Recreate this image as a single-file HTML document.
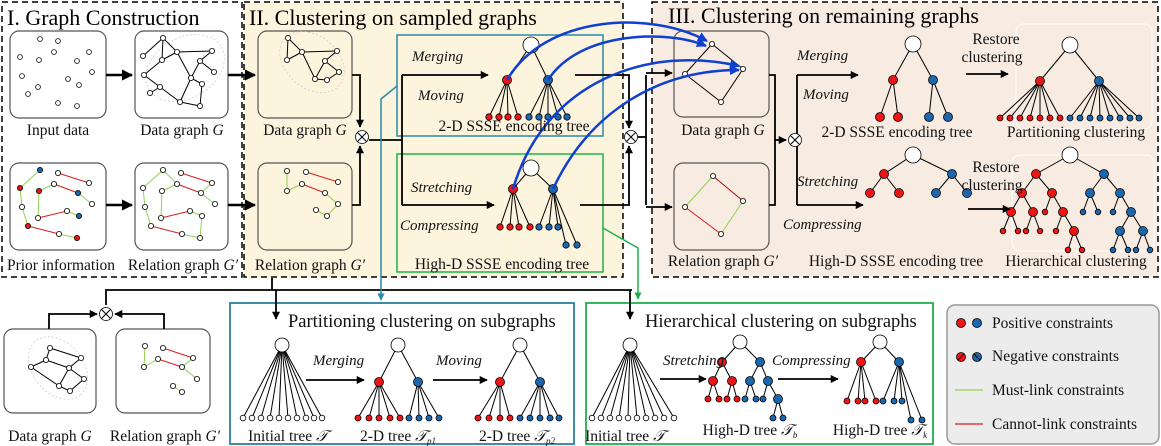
<!DOCTYPE html>
<html><head><meta charset="utf-8"><style>
html,body{margin:0;padding:0;background:#fff}
svg{display:block;font-family:"Liberation Serif",serif}
</style></head><body>
<svg id="s" width="1161" height="446" viewBox="0 0 1161 446" xmlns="http://www.w3.org/2000/svg">
<defs>
<marker id="ak" viewBox="0 0 10 10" refX="9" refY="5" markerWidth="4.5" markerHeight="4.5" orient="auto"><path d="M0,0L10,5L0,10z" fill="#000"/></marker>
<marker id="ab" viewBox="0 0 10 10" refX="9" refY="5" markerWidth="4" markerHeight="4" orient="auto"><path d="M0,0L10,5L0,10z" fill="#1040d0"/></marker>
<marker id="at" viewBox="0 0 10 10" refX="9" refY="5" markerWidth="5" markerHeight="5" orient="auto"><path d="M0,0L10,5L0,10z" fill="#2a8aa8"/></marker>
<marker id="ag" viewBox="0 0 10 10" refX="9" refY="5" markerWidth="5" markerHeight="5" orient="auto"><path d="M0,0L10,5L0,10z" fill="#1db34a"/></marker>
</defs>
<rect x="244" y="2" width="379" height="275" fill="#fdf4de" stroke="#000" stroke-width="1.5" stroke-dasharray="6,4"/>
<rect x="2" y="2" width="240" height="275" fill="#fff" stroke="#000" stroke-width="1.5" stroke-dasharray="6,4"/>
<rect x="652" y="2" width="506" height="275" fill="#f8ece2" stroke="#000" stroke-width="1.5" stroke-dasharray="6,4"/>
<rect x="1016" y="24" width="136" height="105" rx="8" fill="none" stroke="#fff" stroke-width="1"/>
<rect x="1012" y="155" width="142" height="96" rx="8" fill="none" stroke="#fff" stroke-width="1"/>
<text x="7" y="25" font-size="22">I. Graph Construction</text>
<text x="249" y="25" font-size="22">II. Clustering on sampled graphs</text>
<text x="668" y="23" font-size="22">III. Clustering on remaining graphs</text>
<g fill="#fff" stroke="#555" stroke-width="1.2">
<rect x="10" y="31" width="96" height="87" rx="9"/>
<rect x="135" y="31" width="93" height="87" rx="9"/>
<rect x="10" y="163" width="96" height="87" rx="9"/>
<rect x="135" y="163" width="93" height="87" rx="9"/>
<rect x="258" y="31" width="94" height="87" rx="9" fill="#fdf4de"/>
<rect x="258" y="163" width="94" height="87" rx="9" fill="#fdf4de"/>
<rect x="674" y="31" width="95" height="86" rx="9" fill="#f8ece2"/>
<rect x="674" y="163" width="95" height="87" rx="9" fill="#f8ece2"/>
<rect x="4" y="329" width="92" height="84" rx="9"/>
<rect x="116" y="329" width="94" height="84" rx="9"/>
</g>
<rect x="397" y="35" width="206" height="101" fill="none" stroke="#2a8aa8" stroke-width="1.5"/>
<rect x="397" y="154" width="206" height="118" fill="none" stroke="#1db34a" stroke-width="1.5"/>
<rect x="230" y="303" width="344" height="141" fill="#fff" stroke="#2a7fa0" stroke-width="1.8"/>
<rect x="586" y="303" width="347" height="141" fill="#fff" stroke="#1db34a" stroke-width="1.8"/>
<rect x="947" y="305" width="212" height="139" rx="8" fill="#ececec" stroke="#999" stroke-width="1.5"/>
<ellipse cx="185" cy="68" rx="42" ry="30" fill="none" stroke="#ccc" stroke-width="0.8" stroke-dasharray="2,2" transform="rotate(-30 185 68)"/>
<ellipse cx="312" cy="62" rx="36" ry="26" fill="none" stroke="#ccc" stroke-width="0.8" stroke-dasharray="2,2" transform="rotate(40 312 62)"/>
<ellipse cx="58" cy="368" rx="35" ry="25" fill="none" stroke="#ccc" stroke-width="0.8" stroke-dasharray="2,2" transform="rotate(50 58 368)"/>
<g id="g"></g>
<g font-size="15.5" fill="#111">
<text x="58" y="135" text-anchor="middle">Input data</text>
<text x="182" y="135" text-anchor="middle">Data graph <tspan font-style="italic">G</tspan></text>
<text x="61" y="270" text-anchor="middle">Prior information</text>
<text x="183" y="270" text-anchor="middle">Relation graph <tspan font-style="italic">G′</tspan></text>
<text x="305" y="135" text-anchor="middle">Data graph <tspan font-style="italic">G</tspan></text>
<text x="310" y="270" text-anchor="middle">Relation graph <tspan font-style="italic">G′</tspan></text>
<text x="514" y="131" text-anchor="middle">2-D SSSE encoding tree</text>
<text x="502" y="269" text-anchor="middle">High-D SSSE encoding tree</text>
<text x="723" y="135" text-anchor="middle">Data graph <tspan font-style="italic">G</tspan></text>
<text x="723" y="266" text-anchor="middle">Relation graph <tspan font-style="italic">G′</tspan></text>
<text x="897" y="137" text-anchor="middle">2-D SSSE encoding tree</text>
<text x="1076" y="137" text-anchor="middle">Partitioning clustering</text>
<text x="896" y="266" text-anchor="middle">High-D SSSE encoding tree</text>
<text x="1076" y="266" text-anchor="middle">Hierarchical clustering</text>
<text x="996" y="44" text-anchor="middle">Restore</text>
<text x="992" y="62" text-anchor="middle">clustering</text>
<text x="996" y="172" text-anchor="middle">Restore</text>
<text x="992" y="190" text-anchor="middle">clustering</text>
<text x="50" y="441" text-anchor="middle">Data graph <tspan font-style="italic">G</tspan></text>
<text x="165" y="441" text-anchor="middle">Relation graph <tspan font-style="italic">G′</tspan></text>
<text x="288" y="441" text-anchor="middle">Initial tree <tspan font-style="italic">𝒯</tspan></text>
<text x="398" y="441" text-anchor="middle">2-D tree <tspan font-style="italic">𝒯<tspan font-size="9" dy="3">p1</tspan></tspan></text>
<text x="517" y="441" text-anchor="middle">2-D tree <tspan font-style="italic">𝒯<tspan font-size="9" dy="3">p2</tspan></tspan></text>
<text x="625" y="441" text-anchor="middle">Initial tree <tspan font-style="italic">𝒯</tspan></text>
<text x="750" y="435" text-anchor="middle">High-D tree <tspan font-style="italic">𝒯<tspan font-size="9" dy="3">b</tspan></tspan></text>
<text x="880" y="435" text-anchor="middle">High-D tree <tspan font-style="italic">𝒯<tspan font-size="9" dy="3">k</tspan></tspan></text>
</g>
<g font-size="15" font-style="italic" fill="#111">
<text x="412" y="61">Merging</text><text x="418" y="100">Moving</text>
<text x="411" y="192">Stretching</text><text x="400" y="230">Compressing</text>
<text x="797" y="60">Merging</text><text x="803" y="99">Moving</text>
<text x="797" y="186">Stretching</text><text x="783" y="229">Compressing</text>
<text x="313" y="365">Merging</text><text x="436" y="365">Moving</text>
<text x="663" y="365">Stretching</text><text x="772" y="365">Compressing</text>
</g>
<g font-size="18.5" fill="#111">
<text x="288" y="327">Partitioning clustering on subgraphs</text>
<text x="645" y="327">Hierarchical clustering on subgraphs</text>
</g>
<g font-size="15.5" fill="#111">
<text x="992" y="328">Positive constraints</text>
<text x="992" y="361">Negative constraints</text>
<text x="992" y="395">Must-link constraints</text>
<text x="992" y="429">Cannot-link constraints</text>
</g>
</svg>
<script>
var g=document.getElementById('g'),NS='http://www.w3.org/2000/svg';
var R='#ee1515',B='#1b67ad',W='#fff';
function el(t,a){var e=document.createElementNS(NS,t);for(var k in a)e.setAttribute(k,a[k]);g.appendChild(e);return e;}
function L(a,b,c,d,col,w,m){var o={x1:a,y1:b,x2:c,y2:d,stroke:col||'#000','stroke-width':w||1};if(m)o['marker-end']='url(#'+m+')';return el('line',o);}
function P(d,col,w,m){var o={d:d,fill:'none',stroke:col||'#000','stroke-width':w||1};if(m)o['marker-end']='url(#'+m+')';return el('path',o);}
function C(x,y,r,f){return el('circle',{cx:x,cy:y,r:r,fill:f||W,stroke:'#000','stroke-width':0.8});}
function graph(nodes,edges,dx,dy,cols){edges.forEach(function(e){var a=nodes[e[0]],b=nodes[e[1]];L(a[0]+dx,a[1]+dy,b[0]+dx,b[1]+dy,e[2]||'#000',1);});nodes.forEach(function(n,i){C(n[0]+dx,n[1]+dy,2.6,cols?(cols[i]||W):W);});}
[[40,39],[58,41],[54,52],[89,52],[20,57],[39,60],[77,61],[92,72],[22,76],[68,79],[79,85],[38,87],[28,94],[58,103],[77,106]].forEach(function(p){C(p[0],p[1],2.4);});
var dg=[[163,38],[177,52],[212,51],[143,56],[162,60],[200,61],[214,72],[191,78],[160,87],[150,93],[202,84],[180,102],[200,106],[144,75]];
var de=[[0,1],[0,3],[0,4],[1,4],[1,2],[2,5],[5,6],[5,7],[1,7],[4,13],[13,8],[8,9],[8,11],[7,10],[10,12],[11,12],[7,11]];
graph(dg,de,0,0);
graph([[288,38],[302,52],[337,51],[287,60],[325,61],[339,72],[315,79],[327,80]],[[0,1],[0,3],[1,3],[1,2],[2,4],[4,5],[4,6],[1,6],[6,7],[5,7]],0,0);
graph([[31,367],[50,348],[46,360],[81,358],[69,368],[84,379],[59,386],[70,391]],[[0,2],[1,2],[1,3],[2,4],[3,4],[4,5],[4,6],[6,7],[5,7],[0,6]],0,0);
var pn=[[40,170],[58,173],[89,183],[54,184],[20,188],[39,191],[78,193],[92,204],[22,207],[67,211],[79,216],[38,218],[28,226],[59,234],[77,238]];
var G='#8fd14f',RD='#d62020';
var pe=[[0,4,G],[4,8,G],[8,12,G],[1,2,RD],[3,6,RD],[6,7,G],[5,11,G],[11,9,RD],[9,10,G],[12,13,RD],[13,14,G],[3,5,G]];
graph(pn,pe,0,0,{0:B,4:R,5:R,6:B,10:B,12:R,14:R});
var pe2=pe.concat([[0,3,G],[2,6,G],[10,14,G]]);
graph(pn,pe2,123,0);
graph([[287,171],[306,172],[338,182],[302,184],[325,193],[287,191],[338,204],[316,210],[327,216]],[[0,5,G],[5,3,G],[1,2,RD],[3,4,RD],[4,6,G],[6,8,G],[7,8,G]],0,0);
graph([[145,346],[144,367],[163,348],[193,358],[158,359],[182,367],[197,379],[173,386],[182,392]],[[0,1,G],[1,4,G],[2,3,RD],[4,5,RD],[3,5,G],[5,6,G],[7,8,G]],0,0);
graph([[712,44],[685,74],[743,69],[721,102]],[[0,1],[0,2],[1,3],[3,2]],0,0);
graph([[713,176],[685,207],[743,201],[721,234]],[[0,1,G],[2,3,G],[0,2,'#a01010'],[1,3,RD]],0,0);
function tree(root,kids){
  function draw(n){var k=n[4]||[];k.forEach(function(c){L(n[0],n[1],c[0],c[1],'#000',1);draw(c);});}
  function dots(n){(n[4]||[]).forEach(dots);C(n[0],n[1],n[2],n[3]);}
  var r=[root[0],root[1],root[2],root[3],kids];draw(r);dots(r);}
function lv(xs,y,r,col){return xs.map(function(x){return [x,y,r,col];});}
tree([531,45,8,W],[[507,80,4.5,R,lv([489,499,508,518],117,3.2,R)],[548,80,4.5,B,lv([529,539,548,558,567],117,3.2,B)]]);
tree([531,168,8,W],[[513,189,4.5,R,lv([500,510,519,530],227,3.2,R)],[553,189,4.5,B,lv([539,549,558],227,3.2,B).concat(lv([566,577],245,3.2,B))]]);
tree([913,44,8,W],[[893,80,4.5,R,lv([880,898],117,4.5,R)],[933,80,4.5,B,lv([929,948],117,4.5,B)]]);
tree([1070,45,8,W],[[1040,81,4.5,R,lv([1000,1010,1020,1030,1040,1050,1060],118,3,R)],[1099,81,4.5,B,lv([1070,1080,1090,1100,1110,1120,1130,1139],118,3,B)]]);
tree([913,155,8,W],[[884,174,4.5,R,lv([870,899],193,4.5,R)],[952,174,4.5,B,lv([936,967],193,4.5,B)]]);
tree([1070,155,8,W],[[1036,174,4.5,R,[[1022,193,4.5,R,[[1011,212,4.5,R,lv([1003,1018],231,2.8,R)],[1033,212,4.5,R,lv([1026,1040],231,2.8,R)]]],[1052,193,4.5,R,[[1045,212,2.8,R],[1063,212,4.5,R,[[1056,231,2.8,R],[1074,231,4.5,R,lv([1068,1082],250,2.8,R)]]]]]]],
 [1104,174,4.5,B,[[1090,193,4.5,B,lv([1083,1098],212,2.8,B)],[1120,193,4.5,B,[[1113,212,2.8,B],[1131,212,4.5,B,[[1120,231,4.5,B,lv([1113,1128],250,2.8,B)],[1143,231,4.5,B,lv([1136,1150],250,2.8,B)]]]]]]]]);
tree([282,345,7,W],lv([243,252,261,270,279,288,297,306,314,322],418,2.8,W));
tree([398,345,7,W],[[379,382,4.5,R,lv([358,369,379,390,400],418,3,R)],[418,382,4.5,B,lv([409,419,429,439],418,3,B)]]);
tree([520,345,7,W],[[500,382,4.5,R,lv([478,489,500,510],418,3,R)],[540,382,4.5,B,lv([520,530,540,550,559],418,3,B)]]);
tree([630,345,7,W],lv([592,601,610,619,628,637,646,655,664,674],418,2.8,W));
tree([740,342,7,W],[[722,362,4.5,R,[[713,381,4.5,R,lv([708,719],399,3,R)],[732,381,4.5,R,lv([727,737],399,3,R)]]],[760,362,4.5,B,[[750,381,4.5,B,lv([745,756],399,3,B)],[768,381,4.5,B,[[763,399,3,B],[778,399,4.5,B,lv([773,783],418,3,B)]]]]]]);
tree([880,342,7,W],[[861,362,4.5,R,lv([847,858,865,876],401,3,R)],[899,362,4.5,B,lv([883,894,902],401,3,B).concat(lv([911,922],420,3,B))]]);
C(961,323,4.5,R);C(977,323,4.5,B);C(961,357,4.5,R);C(977,357,4.5,B);
L(958,360,964,354,'#000',1);L(974,354,980,360,'#000',1);
L(955,390,983,390,'#8fd14f',1.2);L(955,424,983,424,'#d62020',1.2);
function OX(x,y){C(x,y,6.5,W);var d=4.6;L(x-d,y-d,x+d,y+d);L(x-d,y+d,x+d,y-d);}
L(106,75,132,75,'#000',2.5,'ak');L(106,205,132,205,'#000',2.5,'ak');
L(228,75,255,75,'#000',2.5,'ak');L(228,205,255,205,'#000',2.5,'ak');
P('M352,75H360V127','#000',1.8,'ak');P('M352,205H360V146','#000',1.8,'ak');
P('M369,140H402','#000',1.8);L(402,75,402,205,'#000',1.8);
L(402,75,488,75,'#000',1.8,'ak');L(402,205,494,205,'#000',1.8,'ak');
P('M575,75H629V128','#000',1.8,'ak');P('M580,205H629V146','#000',1.8,'ak');
L(638,137,646,137,'#000',1.8);L(646,75,646,205,'#000',1.8);
L(646,73,672,73,'#000',1.8,'ak');L(646,207,672,207,'#000',1.8,'ak');
P('M769,75H775V205H769','#000',1.8);L(775,140,786,140,'#000',1.8,'ak');
L(797,75,797,205,'#000',1.8);L(797,75,858,75,'#000',1.8,'ak');L(797,205,863,205,'#000',1.8,'ak');
L(966,74,1008,74,'#000',1.8,'ak');L(968,209,1010,209,'#000',1.8,'ak');
L(306,380,364,380,'#000',1.8,'ak');L(433,380,487,380,'#000',1.8,'ak');
L(660,379,706,379,'#000',1.8,'ak');L(778,379,838,379,'#000',1.8,'ak');
P('M272,278V290','#000',1.8);P('M106,305V290H632','#000',1.8);
L(276,290,276,319,'#000',1.8,'ak');L(630,290,630,319,'#000',1.8,'ak');
P('M49,329V314H97','#000',1.8,'ak');P('M164,329V314H115','#000',1.8,'ak');
OX(362,137);OX(631,137);OX(795,140);OX(106,314);
P('M397,86L381,99V300','#2a8aa8',1.5,'at');P('M603,228L638,248V299','#1db34a',1.5,'ag');
P('M507,80C545,15 650,10 707,41','#1040d0',2.5,'ab');
P('M548,80C580,30 670,30 706,46','#1040d0',2.5,'ab');
P('M513,189C545,80 650,45 739,66','#1040d0',2.5,'ab');
P('M553,189C590,110 660,70 739,70','#1040d0',2.5,'ab');
</script>
</body></html>
